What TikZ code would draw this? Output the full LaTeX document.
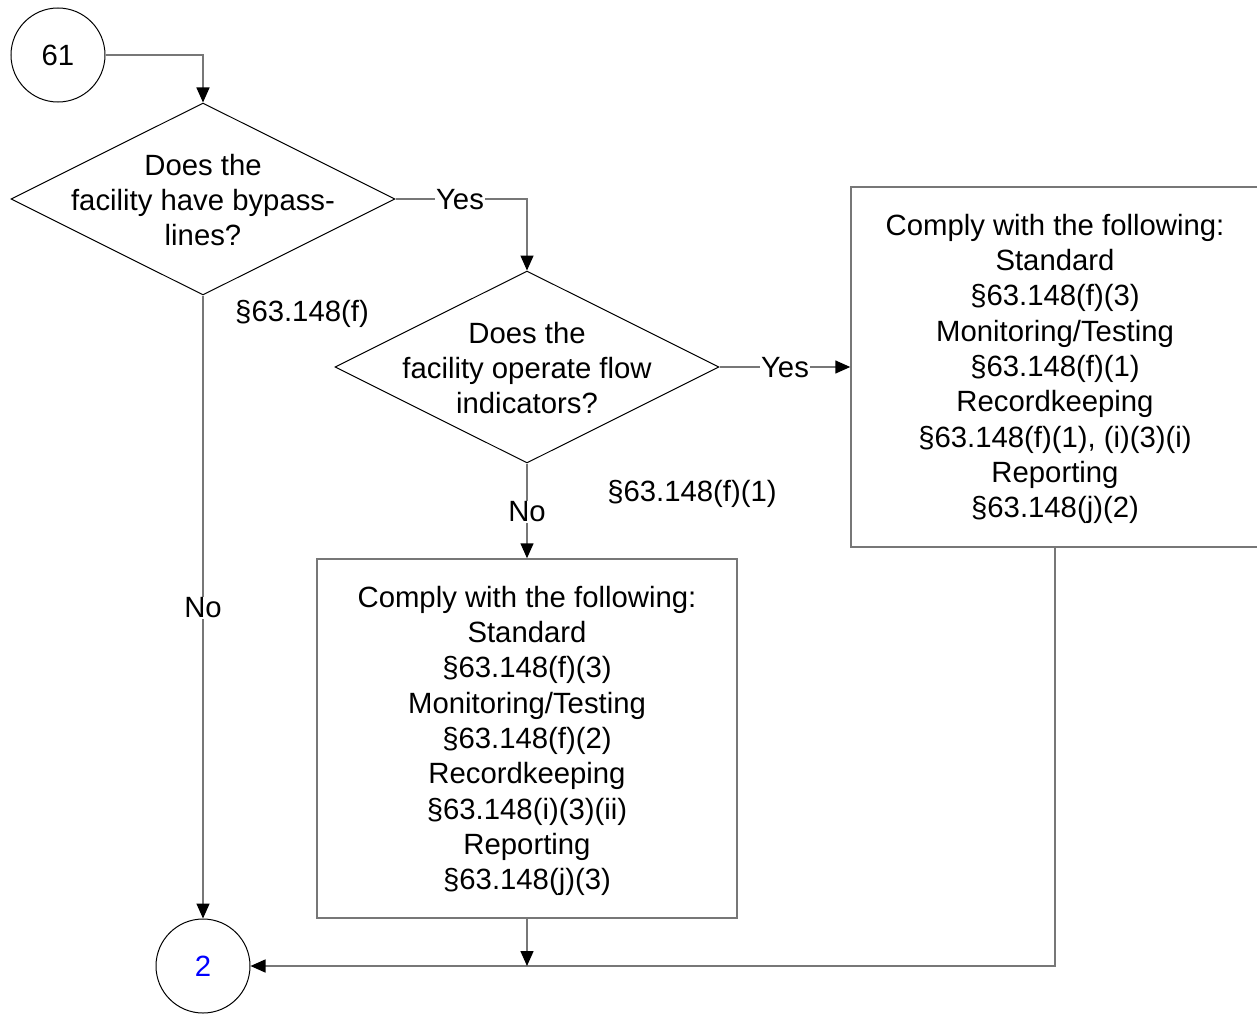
\documentclass[tikz,border=0pt]{standalone}
\usepackage{fontspec}
\setmainfont{Liberation Sans}
\usetikzlibrary{shapes.geometric,arrows.meta}
\definecolor{lgray}{HTML}{777777}
\begin{document}
\begin{tikzpicture}[x=1pt,y=1pt,
  txt/.style={align=center,inner sep=0pt,font=\fontsize{29.3}{35.3}\selectfont},
  lbl/.style={fill=white,inner sep=1pt,font=\fontsize{29.3}{35.3}\selectfont},
  dia/.style={draw=black,line width=1pt,diamond,minimum width=384pt,minimum height=192pt,inner sep=0pt},
  circ/.style={draw=black,line width=1pt,circle,minimum size=94pt,inner sep=0pt,font=\fontsize{29.3}{35.3}\selectfont},
  box/.style={draw=lgray,line width=1.5pt,rectangle,inner sep=0pt},
  conn/.style={draw=lgray,line width=1.5pt,-{Triangle[length=15pt,width=13pt,color=black]}},
  plain/.style={draw=lgray,line width=1.5pt}]
\useasboundingbox (0,0) rectangle (1257,-1014);
\node[circ] (c61) at (58,-55) {61};
\node[circ,text=blue] (c2) at (203,-966) {2};
\node[dia] (d1) at (203,-199) {};
\node[txt] (t1) at (203,-200) {Does the\\facility have bypass-\\lines?};
\node[dia] (d2) at (527,-367) {};
\node[txt] (t2) at (527,-368) {Does the\\facility operate flow\\indicators?};
\node[box,minimum width=420pt,minimum height=359pt] (b1) at (527,-738.5) {};
\node[txt] (bt1) at (527,-741) {Comply with the following:\\Standard\\\S63.148(f)(3)\\Monitoring/Testing\\\S63.148(f)(2)\\Recordkeeping\\\S63.148(i)(3)(ii)\\Reporting\\\S63.148(j)(3)};
\node[box,minimum width=408pt,minimum height=360pt] (b2) at (1055,-367) {};
\node[txt] (bt2) at (1055,-369) {Comply with the following:\\Standard\\\S63.148(f)(3)\\Monitoring/Testing\\\S63.148(f)(1)\\Recordkeeping\\\S63.148(f)(1), (i)(3)(i)\\Reporting\\\S63.148(j)(2)};
% connectors
\draw[conn] (c61.east) -- (c61.east -| d1.north) -- (d1.north);
\draw[conn] (d1.east) -- (d1.east -| d2.north) -- (d2.north);
\draw[conn] (d2.east) -- (b2.west);
\draw[conn] (d2.south) -- (b1.north);
\draw[conn] (d1.south) -- (c2.north);
\draw[conn] (b2.south) -- (b2.south |- c2.east) -- (c2.east);
\coordinate (j1) at (b1.south |- c2.east);
\draw[conn] (b1.south) -- (j1);
% labels
\node[lbl] (y1) at (460,-200) {Yes};
\node[lbl] (y2) at (785,-368) {Yes};
\node[lbl] (n2) at (527,-512) {No};
\node[lbl] (n1) at (203,-608) {No};
\node[txt] (r1) at (302,-314) {\S63.148(f)};
\node[txt] (r2) at (692,-494) {\S63.148(f)(1)};
\end{tikzpicture}
\end{document}
